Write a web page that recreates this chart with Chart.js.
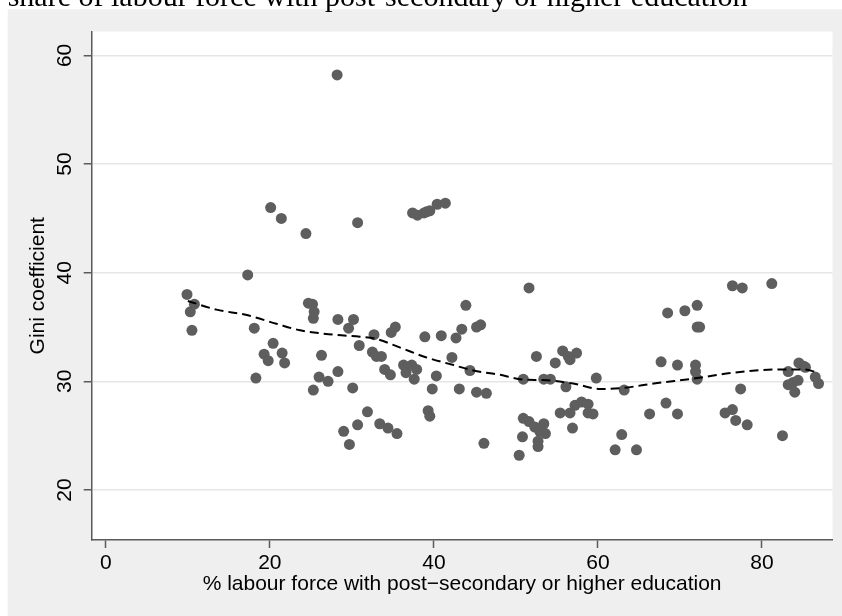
<!DOCTYPE html>
<html>
<head>
<meta charset="utf-8">
<script src="https://cdn.jsdelivr.net/npm/chart.js@4.4.1/dist/chart.umd.min.js"></script>
<style>
  html, body { margin: 0; padding: 0; background: #fff; overflow: hidden; }
  #wrap { position: absolute; left: 0; top: -20px; width: 842px; height: 636px; }
</style>
</head>
<body>
<div id="wrap"><canvas id="giniChart" width="842" height="636"></canvas></div>
<script>
// % of labour force with post-secondary or higher education (x) and Gini (y)
const eduShare = [
  9.9, 10.3, 10.5, 10.8, 17.3, 18.1, 18.3, 19.3, 19.8, 20.1,
  20.4, 21.4, 21.5, 21.8, 24.4, 24.7, 25.2, 25.3, 25.3, 25.4,
  26.0, 26.3, 27.1, 28.2, 28.3, 28.3, 29.0, 29.6, 29.7, 30.1,
  30.2, 30.7, 30.7, 30.9, 31.9, 32.5, 32.7, 33.0, 33.4, 33.6,
  34.0, 34.4, 34.7, 34.8, 35.3, 35.5, 36.3, 36.6, 37.3, 37.4,
  37.6, 37.9, 38.0, 38.8, 38.9, 39.1, 39.3, 39.5, 39.5, 39.8,
  40.3, 40.4, 40.9, 41.4, 42.2, 42.7, 43.1, 43.4, 43.9, 44.4,
  45.2, 45.2, 45.7, 46.1, 46.4,
  50.4, 50.8, 50.9, 50.9, 51.6, 51.6, 52.3, 52.5, 52.7, 52.7,
  52.9, 53.4, 53.4, 53.6, 54.2, 54.8, 55.4, 55.7, 56.1, 56.4,
  56.6, 56.6, 56.9, 57.2, 57.4, 58.0, 58.8, 58.8, 59.4, 59.8,
  62.1, 62.9, 63.2, 64.7, 66.3, 67.7, 68.3, 68.5, 69.7, 69.7,
  70.6, 71.9, 71.9, 72.1, 72.1, 72.1, 72.4, 75.5, 76.4, 76.4,
  76.8, 77.4, 77.6, 78.2, 81.2, 82.5, 83.2, 83.2, 83.8, 84.0,
  84.4, 84.5, 85.1, 85.3, 86.5, 86.9
];
const giniCoef = [
  38.0, 36.4, 34.7, 37.1, 39.8, 34.9, 30.3, 32.5, 31.9, 46.0,
  33.5, 45.0, 32.6, 31.7, 43.6, 37.2, 37.1, 35.8, 29.2, 36.4,
  30.4, 32.4, 30.0, 58.2, 35.7, 30.9, 25.4, 34.9, 24.2, 29.4,
  35.7, 44.6, 26.0, 33.3, 27.2, 32.7, 34.3, 32.3, 26.1, 32.3,
  31.1, 25.7, 30.6, 34.5, 35.0, 25.2, 31.5, 30.8, 31.5, 45.5,
  30.2, 31.1, 45.3, 45.5, 34.1, 45.6, 27.3, 26.8, 45.7, 29.3,
  30.5, 46.3, 34.2, 46.4, 32.2, 34.0, 29.3, 34.8, 37.0, 31.0,
  35.0, 29.0, 35.2, 24.3, 28.9,
  23.2, 24.9, 30.2, 26.6, 38.6, 26.3, 25.8, 32.3, 24.5, 24.0,
  25.4, 30.2, 26.1, 25.2, 30.2, 31.7, 27.1, 32.8, 29.5, 32.3,
  32.0, 27.1, 25.7, 27.8, 32.6, 28.1, 27.9, 27.1, 27.0, 30.3,
  23.7, 25.1, 29.2, 23.7, 27.0, 31.8, 28.0, 36.3, 31.5, 27.0,
  36.5, 31.5, 30.9, 30.2, 37.0, 35.0, 35.0, 27.1, 38.8, 27.4,
  26.4, 29.3, 38.6, 26.0, 39.0, 25.0, 30.9, 29.7, 29.9, 29.0,
  30.1, 31.7, 31.4, 31.3, 30.4, 29.8
];

// lowess smooth
const lowessEdu  = [10.0, 13.5, 17.2, 20.8, 23.7, 27.7, 31.0, 33.0, 35.9, 39.1, 42.4, 44.8, 48.1, 50.5, 53.8, 57.0, 60.3, 63.1, 66.8, 72.1, 76.5, 82.6, 85.0, 86.9];
const lowessGini = [37.4, 36.6, 36.1, 35.3, 34.7, 34.3, 34.1, 33.9, 33.1, 32.2, 31.5, 31.0, 30.6, 30.2, 30.1, 29.8, 29.3, 29.4, 29.8, 30.3, 30.8, 31.1, 31.1, 30.8];

const xTicks = [0, 20, 40, 60, 80];
const yTicks = [20, 30, 40, 50, 60];

const AXIS = "#5a5a5a";
const FONT = "'Liberation Sans', Arial, sans-serif";

// stata-ish backdrop: grey graph region, white plot region
const backdrop = {
  id: "backdrop",
  beforeDraw(chart) {
    const { ctx, chartArea: a } = chart;
    ctx.save();
    ctx.fillStyle = "#ffffff";
    ctx.fillRect(0, 0, chart.width, chart.height);
    ctx.fillStyle = "#efefef";
    ctx.fillRect(7.7, 29.3, chart.width - 7.7, chart.height - 29.3);
    ctx.fillStyle = "#ffffff";
    ctx.fillRect(a.left, a.top, a.right - a.left, a.bottom - a.top);
    ctx.restore();
  }
};

const points = eduShare.map((x, i) => ({ x: x, y: giniCoef[i] }));
const smooth = lowessEdu.map((x, i) => ({ x: x, y: lowessGini[i] }));

new Chart(document.getElementById("giniChart"), {
  type: "scatter",
  data: {
    datasets: [
      {
        type: "line",
        label: "lowess",
        data: smooth,
        borderColor: "#000000",
        borderWidth: 2,
        borderDash: [9, 5],
        pointRadius: 0,
        fill: false,
        cubicInterpolationMode: "monotone",
        order: 0
      },
      {
        label: "Gini coefficient",
        data: points,
        backgroundColor: "#5e5e5e",
        borderWidth: 0,
        pointRadius: 5.5,
        pointHoverRadius: 5.5,
        order: 1
      }
    ]
  },
  options: {
    responsive: false,
    animation: false,
    layout: { padding: { left: 7.7, right: 9.5, top: 0, bottom: 0 } },
    plugins: {
      legend: { display: false },
      tooltip: { enabled: false },
      title: {
        display: true,
        text: "share of labour force with post-secondary or higher education",
        align: "start",
        color: "#000000",
        font: { family: "'Liberation Serif', 'Times New Roman', serif", size: 30, weight: "normal", lineHeight: 1.2 },
        padding: { top: 0, bottom: 15.5 }
      }
    },
    scales: {
      x: {
        type: "linear",
        min: -1.72,
        max: 88.6,
        afterBuildTicks: (s) => { s.ticks = xTicks.map(v => ({ value: v })); },
        afterFit: (s) => { s.height = 76; },
        grid: { drawOnChartArea: false, drawTicks: true, tickLength: 8, tickColor: AXIS, tickWidth: 1.5 },
        border: { display: true, color: AXIS, width: 1.5 },
        ticks: { color: "#000", font: { family: FONT, size: 21 }, padding: 3, maxRotation: 0 },
        title: {
          display: true,
          text: "% labour force with post\u2212secondary or higher education",
          color: "#000",
          font: { family: FONT, size: 21, lineHeight: 1.2 },
          padding: { top: 0, bottom: 19.4 }
        }
      },
      y: {
        type: "linear",
        min: 15.4,
        max: 62.2,
        afterBuildTicks: (s) => { s.ticks = yTicks.map(v => ({ value: v })); },
        afterFit: (s) => { s.width = 84; },
        grid: { color: "#e6e6e6", lineWidth: 1.5, drawTicks: true, tickLength: 8, tickColor: AXIS, tickWidth: 1.5 },
        border: { display: true, color: AXIS, width: 1.5 },
        ticks: { color: "#000", font: { family: FONT, size: 21 }, padding: 7, minRotation: 90, maxRotation: 90, crossAlign: "center" },
        title: {
          display: true,
          text: "Gini coefficient",
          color: "#000",
          font: { family: FONT, size: 21, lineHeight: 1.2 },
          padding: { top: 17.7, bottom: 0 }
        }
      }
    }
  },
  plugins: [backdrop]
});
</script>
</body>
</html>
